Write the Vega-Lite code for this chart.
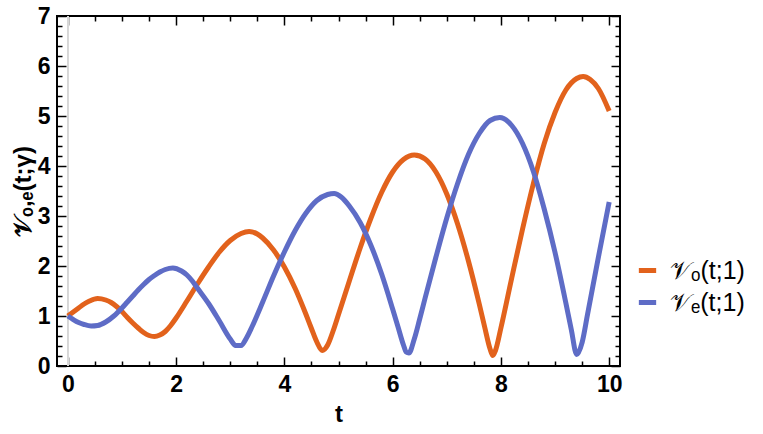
{
  "$schema": "https://vega.github.io/schema/vega-lite/v6.json",
  "autosize": {"type": "none"},
  "padding": {"left": 57, "top": 16, "right": 143, "bottom": 68},
  "width": 563,
  "height": 350,
  "background": "white",
  "config": {
    "view": {"stroke": "black", "strokeWidth": 2},
    "font": "Liberation Sans"
  },
  "datasets": {
    "curves": [
      {"t": 0, "v": 1.0, "s": "𝒱ₒ(t;1)"},
      {"t": 0.1, "v": 1.08, "s": "𝒱ₒ(t;1)"},
      {"t": 0.2, "v": 1.16, "s": "𝒱ₒ(t;1)"},
      {"t": 0.3, "v": 1.24, "s": "𝒱ₒ(t;1)"},
      {"t": 0.4, "v": 1.30, "s": "𝒱ₒ(t;1)"},
      {"t": 0.55, "v": 1.35, "s": "𝒱ₒ(t;1)"},
      {"t": 0.7, "v": 1.32, "s": "𝒱ₒ(t;1)"},
      {"t": 0.8, "v": 1.27, "s": "𝒱ₒ(t;1)"},
      {"t": 0.9, "v": 1.19, "s": "𝒱ₒ(t;1)"},
      {"t": 1.0, "v": 1.09, "s": "𝒱ₒ(t;1)"},
      {"t": 1.1, "v": 0.97, "s": "𝒱ₒ(t;1)"},
      {"t": 1.2, "v": 0.86, "s": "𝒱ₒ(t;1)"},
      {"t": 1.3, "v": 0.76, "s": "𝒱ₒ(t;1)"},
      {"t": 1.4, "v": 0.67, "s": "𝒱ₒ(t;1)"},
      {"t": 1.5, "v": 0.61, "s": "𝒱ₒ(t;1)"},
      {"t": 1.6, "v": 0.59, "s": "𝒱ₒ(t;1)"},
      {"t": 1.7, "v": 0.62, "s": "𝒱ₒ(t;1)"},
      {"t": 1.8, "v": 0.69, "s": "𝒱ₒ(t;1)"},
      {"t": 1.9, "v": 0.81, "s": "𝒱ₒ(t;1)"},
      {"t": 2.0, "v": 0.96, "s": "𝒱ₒ(t;1)"},
      {"t": 2.2, "v": 1.30, "s": "𝒱ₒ(t;1)"},
      {"t": 2.4, "v": 1.65, "s": "𝒱ₒ(t;1)"},
      {"t": 2.6, "v": 1.98, "s": "𝒱ₒ(t;1)"},
      {"t": 2.8, "v": 2.28, "s": "𝒱ₒ(t;1)"},
      {"t": 3.0, "v": 2.51, "s": "𝒱ₒ(t;1)"},
      {"t": 3.2, "v": 2.65, "s": "𝒱ₒ(t;1)"},
      {"t": 3.35, "v": 2.69, "s": "𝒱ₒ(t;1)"},
      {"t": 3.5, "v": 2.64, "s": "𝒱ₒ(t;1)"},
      {"t": 3.6, "v": 2.56, "s": "𝒱ₒ(t;1)"},
      {"t": 3.8, "v": 2.32, "s": "𝒱ₒ(t;1)"},
      {"t": 4.0, "v": 1.98, "s": "𝒱ₒ(t;1)"},
      {"t": 4.2, "v": 1.55, "s": "𝒱ₒ(t;1)"},
      {"t": 4.4, "v": 1.03, "s": "𝒱ₒ(t;1)"},
      {"t": 4.5, "v": 0.75, "s": "𝒱ₒ(t;1)"},
      {"t": 4.6, "v": 0.48, "s": "𝒱ₒ(t;1)"},
      {"t": 4.7, "v": 0.31, "s": "𝒱ₒ(t;1)"},
      {"t": 4.8, "v": 0.42, "s": "𝒱ₒ(t;1)"},
      {"t": 4.9, "v": 0.70, "s": "𝒱ₒ(t;1)"},
      {"t": 5.0, "v": 1.03, "s": "𝒱ₒ(t;1)"},
      {"t": 5.2, "v": 1.70, "s": "𝒱ₒ(t;1)"},
      {"t": 5.4, "v": 2.36, "s": "𝒱ₒ(t;1)"},
      {"t": 5.6, "v": 2.96, "s": "𝒱ₒ(t;1)"},
      {"t": 5.8, "v": 3.48, "s": "𝒱ₒ(t;1)"},
      {"t": 6.0, "v": 3.88, "s": "𝒱ₒ(t;1)"},
      {"t": 6.2, "v": 4.13, "s": "𝒱ₒ(t;1)"},
      {"t": 6.4, "v": 4.22, "s": "𝒱ₒ(t;1)"},
      {"t": 6.6, "v": 4.14, "s": "𝒱ₒ(t;1)"},
      {"t": 6.8, "v": 3.88, "s": "𝒱ₒ(t;1)"},
      {"t": 7.0, "v": 3.44, "s": "𝒱ₒ(t;1)"},
      {"t": 7.2, "v": 2.84, "s": "𝒱ₒ(t;1)"},
      {"t": 7.4, "v": 2.10, "s": "𝒱ₒ(t;1)"},
      {"t": 7.6, "v": 1.24, "s": "𝒱ₒ(t;1)"},
      {"t": 7.7, "v": 0.78, "s": "𝒱ₒ(t;1)"},
      {"t": 7.8, "v": 0.34, "s": "𝒱ₒ(t;1)"},
      {"t": 7.85, "v": 0.21, "s": "𝒱ₒ(t;1)"},
      {"t": 7.9, "v": 0.31, "s": "𝒱ₒ(t;1)"},
      {"t": 8.0, "v": 0.76, "s": "𝒱ₒ(t;1)"},
      {"t": 8.2, "v": 1.76, "s": "𝒱ₒ(t;1)"},
      {"t": 8.4, "v": 2.74, "s": "𝒱ₒ(t;1)"},
      {"t": 8.6, "v": 3.65, "s": "𝒱ₒ(t;1)"},
      {"t": 8.8, "v": 4.45, "s": "𝒱ₒ(t;1)"},
      {"t": 9.0, "v": 5.07, "s": "𝒱ₒ(t;1)"},
      {"t": 9.2, "v": 5.52, "s": "𝒱ₒ(t;1)"},
      {"t": 9.4, "v": 5.75, "s": "𝒱ₒ(t;1)"},
      {"t": 9.52, "v": 5.79, "s": "𝒱ₒ(t;1)"},
      {"t": 9.65, "v": 5.73, "s": "𝒱ₒ(t;1)"},
      {"t": 9.8, "v": 5.55, "s": "𝒱ₒ(t;1)"},
      {"t": 10.0, "v": 5.10, "s": "𝒱ₒ(t;1)"},

      {"t": 0, "v": 1.0, "s": "𝒱ₑ(t;1)"},
      {"t": 0.1, "v": 0.93, "s": "𝒱ₑ(t;1)"},
      {"t": 0.2, "v": 0.87, "s": "𝒱ₑ(t;1)"},
      {"t": 0.3, "v": 0.83, "s": "𝒱ₑ(t;1)"},
      {"t": 0.43, "v": 0.80, "s": "𝒱ₑ(t;1)"},
      {"t": 0.55, "v": 0.81, "s": "𝒱ₑ(t;1)"},
      {"t": 0.7, "v": 0.88, "s": "𝒱ₑ(t;1)"},
      {"t": 0.85, "v": 1.0, "s": "𝒱ₑ(t;1)"},
      {"t": 1.0, "v": 1.16, "s": "𝒱ₑ(t;1)"},
      {"t": 1.1, "v": 1.28, "s": "𝒱ₑ(t;1)"},
      {"t": 1.2, "v": 1.40, "s": "𝒱ₑ(t;1)"},
      {"t": 1.3, "v": 1.52, "s": "𝒱ₑ(t;1)"},
      {"t": 1.4, "v": 1.63, "s": "𝒱ₑ(t;1)"},
      {"t": 1.5, "v": 1.73, "s": "𝒱ₑ(t;1)"},
      {"t": 1.6, "v": 1.81, "s": "𝒱ₑ(t;1)"},
      {"t": 1.7, "v": 1.88, "s": "𝒱ₑ(t;1)"},
      {"t": 1.8, "v": 1.93, "s": "𝒱ₑ(t;1)"},
      {"t": 1.94, "v": 1.96, "s": "𝒱ₑ(t;1)"},
      {"t": 2.1, "v": 1.90, "s": "𝒱ₑ(t;1)"},
      {"t": 2.2, "v": 1.82, "s": "𝒱ₑ(t;1)"},
      {"t": 2.3, "v": 1.70, "s": "𝒱ₑ(t;1)"},
      {"t": 2.4, "v": 1.55, "s": "𝒱ₑ(t;1)"},
      {"t": 2.6, "v": 1.25, "s": "𝒱ₑ(t;1)"},
      {"t": 2.8, "v": 0.90, "s": "𝒱ₑ(t;1)"},
      {"t": 3.0, "v": 0.54, "s": "𝒱ₑ(t;1)"},
      {"t": 3.1, "v": 0.41, "s": "𝒱ₑ(t;1)"},
      {"t": 3.2, "v": 0.41, "s": "𝒱ₑ(t;1)"},
      {"t": 3.3, "v": 0.56, "s": "𝒱ₑ(t;1)"},
      {"t": 3.4, "v": 0.78, "s": "𝒱ₑ(t;1)"},
      {"t": 3.6, "v": 1.28, "s": "𝒱ₑ(t;1)"},
      {"t": 3.8, "v": 1.80, "s": "𝒱ₑ(t;1)"},
      {"t": 4.0, "v": 2.28, "s": "𝒱ₑ(t;1)"},
      {"t": 4.2, "v": 2.71, "s": "𝒱ₑ(t;1)"},
      {"t": 4.4, "v": 3.06, "s": "𝒱ₑ(t;1)"},
      {"t": 4.6, "v": 3.31, "s": "𝒱ₑ(t;1)"},
      {"t": 4.8, "v": 3.43, "s": "𝒱ₑ(t;1)"},
      {"t": 4.92, "v": 3.45, "s": "𝒱ₑ(t;1)"},
      {"t": 5.05, "v": 3.38, "s": "𝒱ₑ(t;1)"},
      {"t": 5.2, "v": 3.20, "s": "𝒱ₑ(t;1)"},
      {"t": 5.4, "v": 2.87, "s": "𝒱ₑ(t;1)"},
      {"t": 5.6, "v": 2.41, "s": "𝒱ₑ(t;1)"},
      {"t": 5.8, "v": 1.83, "s": "𝒱ₑ(t;1)"},
      {"t": 6.0, "v": 1.14, "s": "𝒱ₑ(t;1)"},
      {"t": 6.1, "v": 0.78, "s": "𝒱ₑ(t;1)"},
      {"t": 6.2, "v": 0.42, "s": "𝒱ₑ(t;1)"},
      {"t": 6.25, "v": 0.28, "s": "𝒱ₑ(t;1)"},
      {"t": 6.3, "v": 0.26, "s": "𝒱ₑ(t;1)"},
      {"t": 6.4, "v": 0.54, "s": "𝒱ₑ(t;1)"},
      {"t": 6.5, "v": 0.94, "s": "𝒱ₑ(t;1)"},
      {"t": 6.6, "v": 1.36, "s": "𝒱ₑ(t;1)"},
      {"t": 6.8, "v": 2.18, "s": "𝒱ₑ(t;1)"},
      {"t": 7.0, "v": 2.96, "s": "𝒱ₑ(t;1)"},
      {"t": 7.2, "v": 3.65, "s": "𝒱ₑ(t;1)"},
      {"t": 7.4, "v": 4.23, "s": "𝒱ₑ(t;1)"},
      {"t": 7.6, "v": 4.65, "s": "𝒱ₑ(t;1)"},
      {"t": 7.8, "v": 4.91, "s": "𝒱ₑ(t;1)"},
      {"t": 7.98, "v": 4.97, "s": "𝒱ₑ(t;1)"},
      {"t": 8.2, "v": 4.81, "s": "𝒱ₑ(t;1)"},
      {"t": 8.4, "v": 4.45, "s": "𝒱ₑ(t;1)"},
      {"t": 8.6, "v": 3.89, "s": "𝒱ₑ(t;1)"},
      {"t": 8.8, "v": 3.14, "s": "𝒱ₑ(t;1)"},
      {"t": 9.0, "v": 2.27, "s": "𝒱ₑ(t;1)"},
      {"t": 9.2, "v": 1.26, "s": "𝒱ₑ(t;1)"},
      {"t": 9.3, "v": 0.73, "s": "𝒱ₑ(t;1)"},
      {"t": 9.4, "v": 0.23, "s": "𝒱ₑ(t;1)"},
      {"t": 9.5, "v": 0.47, "s": "𝒱ₑ(t;1)"},
      {"t": 9.6, "v": 1.03, "s": "𝒱ₑ(t;1)"},
      {"t": 9.8, "v": 2.17, "s": "𝒱ₑ(t;1)"},
      {"t": 10.0, "v": 3.28, "s": "𝒱ₑ(t;1)"}
    ]
  },
  "data": {"name": "curves"},
  "layer": [
    {
      "mark": {"type": "rule", "color": "#d8d8d8", "strokeWidth": 1.5},
      "encoding": {
        "x": {"datum": 0, "type": "quantitative", "axis": null, "scale": {"domain": [-0.2, 10.2], "nice": false, "zero": false}}
      }
    },
    {
      "mark": {"type": "line", "strokeWidth": 5, "interpolate": "monotone", "clip": true},
      "encoding": {
        "x": {
          "field": "t", "type": "quantitative",
          "scale": {"domain": [-0.2, 10.2], "nice": false, "zero": false},
          "axis": {
            "orient": "bottom",
            "values": [0,0.5,1,1.5,2,2.5,3,3.5,4,4.5,5,5.5,6,6.5,7,7.5,8,8.5,9,9.5,10],
            "labelExpr": "datum.value % 2 === 0 ? '' + datum.value : ''",
            "tickSize": {"condition": {"test": "datum.value % 2 === 0", "value": -9}, "value": -5},
            "tickColor": "black", "tickWidth": 1.5,
            "domain": false, "grid": false,
            "labelFont": "Liberation Sans", "labelFontSize": 23, "labelFontWeight": "bold", "labelColor": "black",
            "labelPadding": 16, "labelOverlap": false, "labelFlush": false, "labelBound": false,
            "title": "t", "titleFont": "Liberation Sans", "titleFontSize": 24, "titleFontWeight": "bold", "titleColor": "black",
            "titlePadding": 2
          }
        },
        "y": {
          "field": "v", "type": "quantitative",
          "scale": {"domain": [0, 7], "nice": false},
          "axis": {
            "orient": "left",
            "values": [0,0.2,0.4,0.6,0.8,1,1.2,1.4,1.6,1.8,2,2.2,2.4,2.6,2.8,3,3.2,3.4,3.6,3.8,4,4.2,4.4,4.6,4.8,5,5.2,5.4,5.6,5.8,6,6.2,6.4,6.6,6.8,7],
            "labelExpr": "datum.value % 1 === 0 ? '' + datum.value : ''",
            "tickSize": {"condition": {"test": "datum.value % 1 === 0", "value": -9}, "value": -5},
            "tickColor": "black", "tickWidth": 1.5,
            "domain": false, "grid": false,
            "labelFont": "Liberation Sans", "labelFontSize": 23, "labelFontWeight": "bold", "labelColor": "black",
            "labelPadding": 16, "labelOverlap": false, "labelFlush": false, "labelBound": false,
            "title": "𝒱ₒ,ₑ(t;γ)", "titleFont": "Liberation Sans", "titleFontSize": 24, "titleFontWeight": "bold", "titleColor": "black",
            "titlePadding": 2
          }
        },
        "color": {
          "field": "s", "type": "nominal",
          "scale": {"domain": ["𝒱ₒ(t;1)", "𝒱ₑ(t;1)"], "range": ["#E2621C", "#5E6CC6"]},
          "legend": {
            "orient": "none", "legendX": 578, "legendY": 242,
            "title": null, "symbolType": "stroke", "symbolStrokeWidth": 5, "symbolSize": 300,
            "labelFont": "Liberation Sans", "labelFontSize": 25, "labelColor": "black",
            "rowPadding": 6, "labelOffset": 10
          }
        }
      }
    },
    {
      "mark": {"type": "line", "opacity": 0},
      "encoding": {
        "x": {
          "field": "t", "type": "quantitative",
          "axis": {
            "orient": "top",
            "values": [0,0.5,1,1.5,2,2.5,3,3.5,4,4.5,5,5.5,6,6.5,7,7.5,8,8.5,9,9.5,10],
            "labels": false,
            "tickSize": {"condition": {"test": "datum.value % 2 === 0", "value": -9}, "value": -5},
            "tickColor": "black", "tickWidth": 1.5,
            "domain": false, "grid": false, "title": null
          }
        },
        "y": {
          "field": "v", "type": "quantitative",
          "axis": {
            "orient": "right",
            "values": [0,0.2,0.4,0.6,0.8,1,1.2,1.4,1.6,1.8,2,2.2,2.4,2.6,2.8,3,3.2,3.4,3.6,3.8,4,4.2,4.4,4.6,4.8,5,5.2,5.4,5.6,5.8,6,6.2,6.4,6.6,6.8,7],
            "labels": false,
            "tickSize": {"condition": {"test": "datum.value % 1 === 0", "value": -9}, "value": -5},
            "tickColor": "black", "tickWidth": 1.5,
            "domain": false, "grid": false, "title": null
          }
        },
        "detail": {"field": "s"}
      }
    }
  ],
  "resolve": {"axis": {"x": "independent", "y": "independent"}}
}
